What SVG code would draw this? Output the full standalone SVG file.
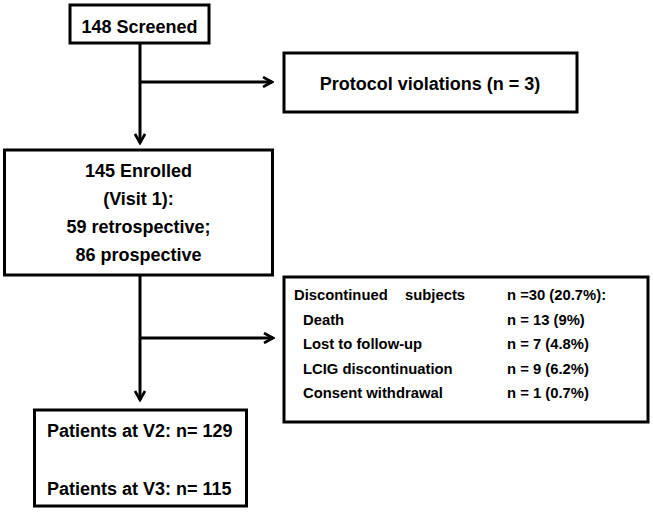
<svg xmlns="http://www.w3.org/2000/svg" width="653" height="512" viewBox="0 0 653 512">
<defs>
<style>
.box{fill:#fff;stroke:#000;stroke-width:3}
.t{font-family:"Liberation Sans",Arial,sans-serif;font-weight:700;font-size:18px;fill:#000}
.s{font-size:14.8px}
.c{text-anchor:middle}
.ln{stroke:#000;stroke-width:3;fill:none}
</style>
<marker id="ah" viewBox="0 0 12 12" refX="10.5" refY="6" markerWidth="12" markerHeight="12" markerUnits="userSpaceOnUse" orient="auto">
<path d="M1.5,1 L10.5,6 L1.5,11" fill="none" stroke="#000" stroke-width="2.6"/>
</marker>
</defs>
<rect width="653" height="512" fill="#fff"/>
<g id="connectors">
<line class="ln" x1="140" y1="43" x2="140" y2="143" marker-end="url(#ah)"/>
<line class="ln" x1="140" y1="82" x2="272" y2="82" marker-end="url(#ah)"/>
<line class="ln" x1="140" y1="275" x2="140" y2="400" marker-end="url(#ah)"/>
<line class="ln" x1="140" y1="338" x2="273" y2="338" marker-end="url(#ah)"/>
</g>
<g id="screened">
<rect class="box" x="70" y="5" width="139" height="38"/>
<text class="t c" x="139.5" y="33">148 Screened</text>
</g>
<g id="protocol">
<rect class="box" x="284" y="53" width="293" height="59"/>
<text class="t c" x="430" y="90">Protocol violations (n = 3)</text>
</g>
<g id="enrolled">
<rect class="box" x="4.5" y="150" width="268" height="125"/>
<text class="t c" x="138.5" y="177">145 Enrolled</text>
<text class="t c" x="138.5" y="205">(Visit 1):</text>
<text class="t c" x="138.5" y="233">59 retrospective;</text>
<text class="t c" x="138.5" y="261">86 prospective</text>
</g>
<g id="discontinued">
<rect class="box" x="284" y="277" width="364" height="145"/>
<text class="t s" x="294" y="300">Discontinued<tspan x="405">subjects</tspan></text>
<text class="t s" x="507" y="300">n =30 (20.7%):</text>
<text class="t s" x="303" y="325">Death</text>
<text class="t s" x="507" y="325">n = 13 (9%)</text>
<text class="t s" x="303" y="349">Lost to follow-up</text>
<text class="t s" x="507" y="349">n = 7 (4.8%)</text>
<text class="t s" x="303" y="374">LCIG discontinuation</text>
<text class="t s" x="507" y="374">n = 9 (6.2%)</text>
<text class="t s" x="303" y="398">Consent withdrawal</text>
<text class="t s" x="507" y="398">n = 1 (0.7%)</text>
</g>
<g id="patients">
<rect class="box" x="34.5" y="410" width="212" height="96"/>
<text class="t" x="47" y="437">Patients at V2: n= 129</text>
<text class="t" x="47" y="495">Patients at V3: n= 115</text>
</g>
</svg>
